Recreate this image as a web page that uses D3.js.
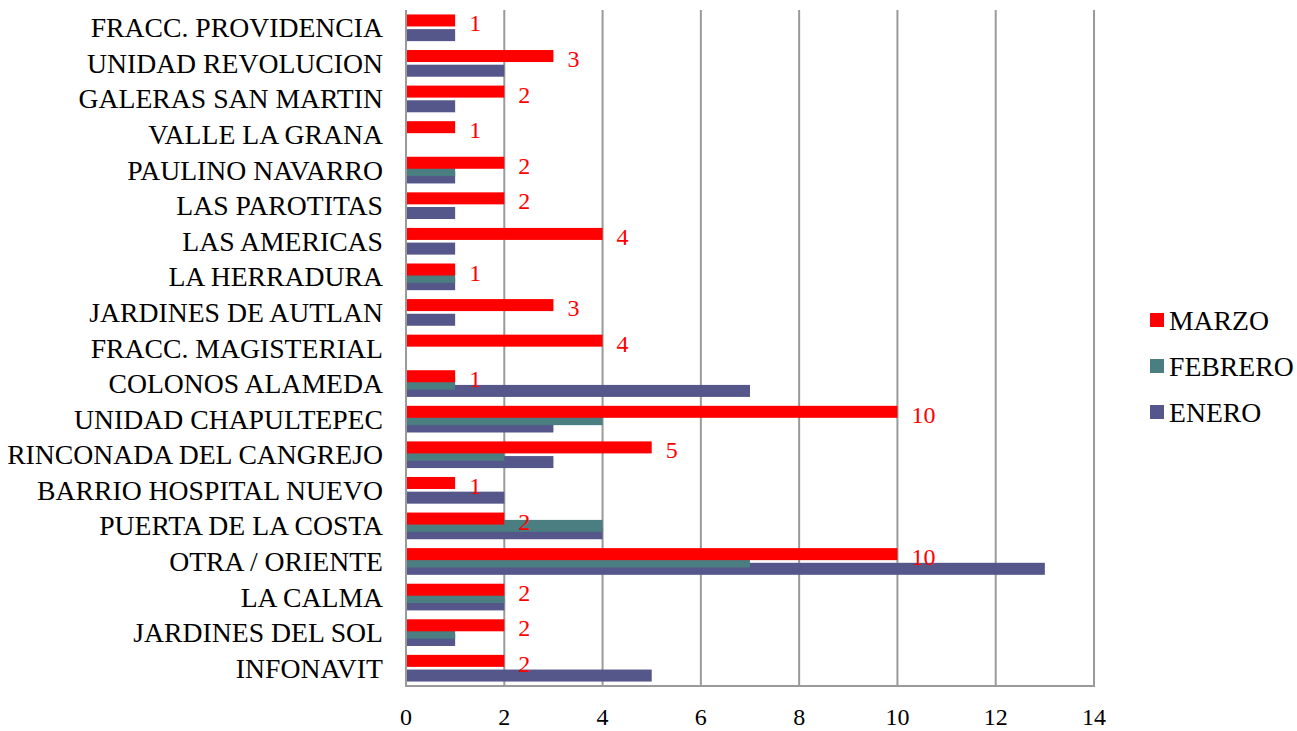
<!DOCTYPE html>
<html>
<head>
<meta charset="utf-8">
<script src="https://cdn.jsdelivr.net/npm/d3@7"></script>
<style>
  html, body { margin: 0; padding: 0; background: #fff; }
  svg { display: block; }
  text { font-family: "Liberation Serif", "Times New Roman", serif; }
</style>
</head>
<body>
<svg id="chart" width="1297" height="731"></svg>
<script>
const categories = [
  "FRACC. PROVIDENCIA", "UNIDAD REVOLUCION", "GALERAS SAN MARTIN", "VALLE LA GRANA",
  "PAULINO NAVARRO", "LAS PAROTITAS", "LAS AMERICAS", "LA HERRADURA",
  "JARDINES DE AUTLAN", "FRACC. MAGISTERIAL", "COLONOS ALAMEDA", "UNIDAD CHAPULTEPEC",
  "RINCONADA DEL CANGREJO", "BARRIO HOSPITAL NUEVO", "PUERTA DE LA COSTA", "OTRA / ORIENTE",
  "LA CALMA", "JARDINES DEL SOL", "INFONAVIT"
];
const marzo   = [1, 3, 2, 1, 2, 2, 4, 1, 3, 4, 1, 10, 5, 1, 2, 10, 2, 2, 2];
const febrero = [0, 0, 0, 0, 1, 0, 0, 1, 0, 0, 1, 4, 2, 0, 4, 7, 2, 1, 0];
const enero   = [1, 2, 1, 0, 1, 1, 1, 1, 1, 0, 7, 3, 3, 2, 4, 13, 2, 1, 5];
const seriesNames = ["MARZO", "FEBRERO", "ENERO"];
const xTicks = [0, 2, 4, 6, 8, 10, 12, 14];

const colors = { MARZO: "#FF0000", FEBRERO: "#4A7E80", ENERO: "#55568A" };
const seriesData = { MARZO: marzo, FEBRERO: febrero, ENERO: enero };

const svg = d3.select("#chart");
const pLeft = 406, pRight = 1094, pTop = 10, pBottom = 686;

const x = d3.scaleLinear().domain([0, 14]).range([pLeft, pRight]);
const y = d3.scaleBand().domain(categories).range([pTop, pBottom])
  .paddingInner(0.25).paddingOuter(0.125);

const bw = y.bandwidth();
const barH = bw * 0.45;
const step = (bw - barH) / 2;
const offsets = { MARZO: 0, FEBRERO: step, ENERO: 2 * step };

// gridlines
svg.append("g").selectAll("line").data(xTicks.slice(1)).join("line")
  .attr("x1", d => x(d)).attr("x2", d => x(d))
  .attr("y1", pTop).attr("y2", pBottom)
  .attr("stroke", "#9a9a9a").attr("stroke-width", 2);

// bars: draw ENERO, FEBRERO, then MARZO on top
["ENERO", "FEBRERO", "MARZO"].forEach(name => {
  svg.append("g").selectAll("rect").data(categories).join("rect")
    .attr("x", x(0))
    .attr("y", (c) => y(c) + offsets[name])
    .attr("width", (c, i) => x(seriesData[name][i]) - x(0))
    .attr("height", barH)
    .attr("fill", colors[name]);
});

// axis lines
svg.append("line").attr("x1", pLeft).attr("x2", pLeft).attr("y1", pTop).attr("y2", pBottom)
  .attr("stroke", "#9a9a9a").attr("stroke-width", 2);
svg.append("line").attr("x1", pLeft - 1).attr("x2", pRight + 1).attr("y1", pBottom).attr("y2", pBottom)
  .attr("stroke", "#9a9a9a").attr("stroke-width", 2);

// data labels for MARZO
svg.append("g").selectAll("text").data(categories).join("text")
  .attr("x", (c, i) => x(marzo[i]) + 14)
  .attr("y", c => y(c) + barH / 2 + 11)
  .attr("fill", "#FF0000")
  .attr("font-size", 24)
  .text((c, i) => marzo[i]);

// category labels
svg.append("g").selectAll("text").data(categories).join("text")
  .attr("x", 383)
  .attr("y", c => y(c) + bw / 2 + 9.5)
  .attr("text-anchor", "end")
  .attr("font-size", 27.7)
  .attr("fill", "#000")
  .text(c => c);

// x tick labels
svg.append("g").selectAll("text").data(xTicks).join("text")
  .attr("x", d => x(d))
  .attr("y", 725)
  .attr("text-anchor", "middle")
  .attr("font-size", 24)
  .attr("fill", "#000")
  .text(d => d);

// legend
const legend = svg.append("g").selectAll("g").data(seriesNames).join("g")
  .attr("transform", (d, i) => `translate(1150, ${313 + i * 46})`);
legend.append("rect").attr("width", 14).attr("height", 14).attr("fill", d => colors[d]);
legend.append("text").attr("x", 19).attr("y", 16.5)
  .attr("font-size", 27.7).attr("fill", "#000").text(d => d);
</script>
</body>
</html>
